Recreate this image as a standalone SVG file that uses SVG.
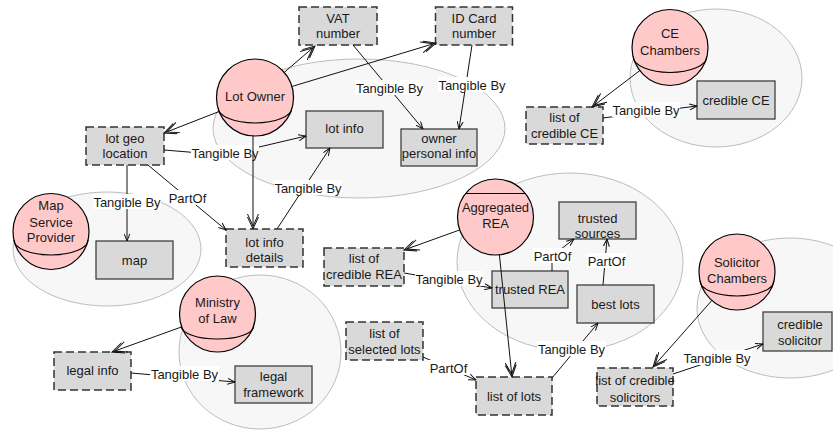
<svg xmlns="http://www.w3.org/2000/svg" width="833" height="430" viewBox="0 0 833 430">
  <defs>
    <style>
      .bound { fill: #f7f7f7; stroke: #bdbdbd; stroke-width: 1; }
      .agent { fill: #ffc9c9; stroke: #000; stroke-width: 1.2; }
      .agent-line { fill: none; stroke: #000; stroke-width: 1.1; }
      .res { fill: #d9d9d9; stroke: #404040; stroke-width: 1.3; }
      .info { fill: #d9d9d9; stroke: #333; stroke-width: 1.5; stroke-dasharray: 8 4; }
      text { font-family: "Liberation Sans", Arial, sans-serif; font-size: 13px; fill: #1a1a1a; text-anchor: middle; }
      .edge { fill: none; stroke: #111; stroke-width: 1; }
      .own { marker-end: url(#ownHead); }
      .rel { marker-end: url(#relHead); }
      .lbl { fill: #fff; }
    </style>
    <marker id="ownHead" viewBox="0 0 16 12" refX="15" refY="6" markerWidth="16" markerHeight="12" markerUnits="userSpaceOnUse" orient="auto">
      <path d="M3,0.5 L15,6 L3,11.5 M0,0.5 L12,6 L0,11.5" fill="none" stroke="#111" stroke-width="1"/>
    </marker>
    <marker id="relHead" viewBox="0 0 8 7" refX="7.5" refY="3.5" markerWidth="8" markerHeight="7" markerUnits="userSpaceOnUse" orient="auto">
      <path d="M0,0.5 L7.5,3.5 L0,6.5" fill="none" stroke="#111" stroke-width="1"/>
    </marker>
  </defs>

  <!-- actor boundaries -->
  <g id="boundaries">
    <ellipse class="bound" cx="359" cy="128.5" rx="146" ry="69.5"/>
    <ellipse class="bound" cx="716" cy="78" rx="86" ry="69"/>
    <ellipse class="bound" cx="107" cy="249" rx="94" ry="57"/>
    <ellipse class="bound" cx="570" cy="262" rx="113" ry="89"/>
    <ellipse class="bound" cx="260" cy="352" rx="81" ry="77"/>
    <ellipse class="bound" cx="790" cy="308" rx="93" ry="70"/>
  </g>

  <!-- actors -->
  <g id="lot-owner">
    <circle class="agent" cx="255" cy="97.5" r="38.5"/>
    <path class="agent-line" d="M218.2,108 A36.8,15 0 0 0 291.8,108"/>
    <text x="255" y="100.5">Lot Owner</text>
  </g>
  <g id="map-service-provider">
    <circle class="agent" cx="51" cy="231.5" r="38"/>
    <path class="agent-line" d="M13.9,240 A37.1,15 0 0 0 88.1,240"/>
    <text x="51" y="209.5">Map</text>
    <text x="51" y="226.5">Service</text>
    <text x="51" y="241.5">Provider</text>
  </g>
  <g id="ce-chambers">
    <circle class="agent" cx="670" cy="47.5" r="38"/>
    <path class="agent-line" d="M633.1,56.5 A36.9,16 0 0 0 706.9,56.5"/>
    <text x="670" y="37.5">CE</text>
    <text x="670" y="54.5">Chambers</text>
  </g>
  <g id="aggregated-rea">
    <circle class="agent" cx="495.5" cy="217" r="38"/>
    <line class="agent-line" x1="465.5" y1="193.5" x2="525.5" y2="193.5"/>
    <text x="495.5" y="211.5">Aggregated</text>
    <text x="495.5" y="227.5">REA</text>
  </g>
  <g id="ministry-of-law">
    <circle class="agent" cx="217.5" cy="314" r="38"/>
    <path class="agent-line" d="M181.2,326 A36.3,13 0 0 0 253.8,326"/>
    <text x="217.5" y="306.5">Ministry</text>
    <text x="217.5" y="322.5">of Law</text>
  </g>
  <g id="solicitor-chambers">
    <circle class="agent" cx="737" cy="272" r="38"/>
    <path class="agent-line" d="M700.1,281 A36.9,15 0 0 0 773.9,281"/>
    <text x="737" y="266.5">Solicitor</text>
    <text x="737" y="282.5">Chambers</text>
  </g>

  <!-- information items (dashed) -->
  <g id="vat-number">
    <rect class="info" x="299" y="7" width="78" height="38"/>
    <text x="338" y="22.5">VAT</text>
    <text x="338" y="37.5">number</text>
  </g>
  <g id="id-card-number">
    <rect class="info" x="435.5" y="7" width="77" height="38"/>
    <text x="474" y="22.5">ID Card</text>
    <text x="474" y="37.5">number</text>
  </g>
  <g id="lot-geo-location">
    <rect class="info" x="86" y="127" width="78" height="38"/>
    <text x="125" y="142.5">lot geo</text>
    <text x="125" y="157.5">location</text>
  </g>
  <g id="lot-info-details">
    <rect class="info" x="226" y="229" width="77" height="38"/>
    <text x="264.5" y="246.5">lot info</text>
    <text x="264.5" y="261.5">details</text>
  </g>
  <g id="list-of-credible-ce">
    <rect class="info" x="526" y="107" width="77" height="37"/>
    <text x="564.5" y="121.5">list of</text>
    <text x="564.5" y="137.5">credible CE</text>
  </g>
  <g id="list-of-credible-rea">
    <rect class="info" x="324" y="248" width="80" height="38"/>
    <text x="364" y="263">list of</text>
    <text x="364" y="279">credible REA</text>
  </g>
  <g id="list-of-selected-lots">
    <rect class="info" x="346" y="322" width="77" height="38"/>
    <text x="384.5" y="337.5">list of</text>
    <text x="384.5" y="353.5">selected lots</text>
  </g>
  <g id="list-of-lots">
    <rect class="info" x="476" y="377" width="76" height="38"/>
    <text x="514" y="400.5">list of lots</text>
  </g>
  <g id="legal-info">
    <rect class="info" x="54" y="352" width="77" height="38"/>
    <text x="92.5" y="374.5">legal info</text>
  </g>
  <g id="list-of-credible-solicitors">
    <rect class="info" x="597" y="368" width="76" height="38"/>
    <text x="635" y="385">list of credible</text>
    <text x="635" y="402">solicitors</text>
  </g>

  <!-- resources (solid) -->
  <g id="lot-info">
    <rect class="res" x="306" y="111" width="77" height="37"/>
    <text x="344.5" y="132.5">lot info</text>
  </g>
  <g id="owner-personal-info">
    <rect class="res" x="401" y="129" width="76" height="37"/>
    <text x="439" y="142.5">owner</text>
    <text x="439" y="157.5">personal info</text>
  </g>
  <g id="map">
    <rect class="res" x="96" y="241" width="77" height="38"/>
    <text x="134.5" y="264.5">map</text>
  </g>
  <g id="credible-ce">
    <rect class="res" x="697" y="81" width="78" height="38"/>
    <text x="736" y="104.5">credible CE</text>
  </g>
  <g id="trusted-sources">
    <rect class="res" x="559" y="202" width="77" height="37"/>
    <text x="597.5" y="222.5">trusted</text>
    <text x="597.5" y="237.5">sources</text>
  </g>
  <g id="trusted-rea">
    <rect class="res" x="492" y="271" width="76" height="37"/>
    <text x="530" y="293.5">trusted REA</text>
  </g>
  <g id="best-lots">
    <rect class="res" x="577" y="285" width="77" height="38"/>
    <text x="615.5" y="308.5">best lots</text>
  </g>
  <g id="legal-framework">
    <rect class="res" x="235" y="366" width="77" height="37"/>
    <text x="273.5" y="380.5">legal</text>
    <text x="273.5" y="396.5">framework</text>
  </g>
  <g id="credible-solicitor">
    <rect class="res" x="763" y="312" width="69" height="39"/>
    <text x="800" y="328.5">credible</text>
    <text x="800" y="344.5">solicitor</text>
  </g>

  <!-- connectors -->
  <g id="connectors">
    <!-- Tangible By / PartOf links with their labels -->
    <polyline class="edge rel" points="164,150 225,155 306,136"/>
    <rect class="lbl" x="191" y="145" width="68" height="15"/>
    <text x="225" y="157.5">Tangible By</text>

    <line class="edge rel" x1="127" y1="165" x2="127" y2="241"/>
    <rect class="lbl" x="93" y="194" width="68" height="15"/>
    <text x="127" y="206.5">Tangible By</text>

    <line class="edge rel" x1="148" y1="165" x2="226" y2="230"/>
    <rect class="lbl" x="168" y="190" width="39" height="15"/>
    <text x="187.5" y="202.5">PartOf</text>

    <line class="edge rel" x1="277" y1="229" x2="330" y2="148"/>
    <rect class="lbl" x="274" y="180" width="68" height="15"/>
    <text x="308" y="192.5">Tangible By</text>

    <line class="edge rel" x1="353" y1="45" x2="423" y2="129"/>
    <rect class="lbl" x="355" y="80" width="68" height="15"/>
    <text x="389.5" y="92.5">Tangible By</text>

    <line class="edge rel" x1="472" y1="45" x2="459" y2="129"/>
    <rect class="lbl" x="438" y="77" width="68" height="15"/>
    <text x="472" y="89.5">Tangible By</text>

    <line class="edge rel" x1="603" y1="118" x2="697" y2="106"/>
    <rect class="lbl" x="612" y="102" width="68" height="15"/>
    <text x="646" y="114.5">Tangible By</text>

    <line class="edge rel" x1="404" y1="273" x2="492" y2="288"/>
    <rect class="lbl" x="415" y="271" width="68" height="15"/>
    <text x="449" y="283.5">Tangible By</text>

    <polyline class="edge rel" points="552,271 552,256 574,239"/>
    <rect class="lbl" x="533" y="248" width="39" height="15"/>
    <text x="552.5" y="260.5">PartOf</text>

    <line class="edge rel" x1="603" y1="285" x2="607" y2="239"/>
    <rect class="lbl" x="587" y="253" width="39" height="15"/>
    <text x="606.5" y="265.5">PartOf</text>

    <line class="edge rel" x1="552" y1="378" x2="598" y2="323"/>
    <rect class="lbl" x="537" y="341" width="69" height="15"/>
    <text x="571.5" y="353.5">Tangible By</text>

    <line class="edge rel" x1="423" y1="357" x2="476" y2="380"/>
    <rect class="lbl" x="429" y="360" width="39" height="15"/>
    <text x="448.5" y="372.5">PartOf</text>

    <line class="edge rel" x1="131" y1="373" x2="235" y2="382"/>
    <rect class="lbl" x="150" y="366" width="69" height="15"/>
    <text x="184.5" y="378.5">Tangible By</text>

    <line class="edge rel" x1="673" y1="374" x2="763" y2="344"/>
    <rect class="lbl" x="682" y="350" width="70" height="15"/>
    <text x="717" y="362.5">Tangible By</text>

    <!-- actor ownership links -->
    <line class="edge own" x1="284.2" y1="72.4" x2="315" y2="46"/>
    <line class="edge own" x1="291.9" y1="86.5" x2="436" y2="43"/>
    <line class="edge own" x1="219.1" y1="111.5" x2="164" y2="133"/>
    <line class="edge own" x1="253" y1="135.5" x2="253" y2="229"/>
    <line class="edge own" x1="639.8" y1="70.6" x2="592" y2="107"/>
    <line class="edge own" x1="459.8" y1="229.9" x2="404" y2="250"/>
    <line class="edge own" x1="499.4" y1="254.8" x2="512" y2="377"/>
    <line class="edge own" x1="181.7" y1="326.9" x2="112" y2="352"/>
    <line class="edge own" x1="711.8" y1="300.5" x2="653" y2="367"/>
  </g>
</svg>
